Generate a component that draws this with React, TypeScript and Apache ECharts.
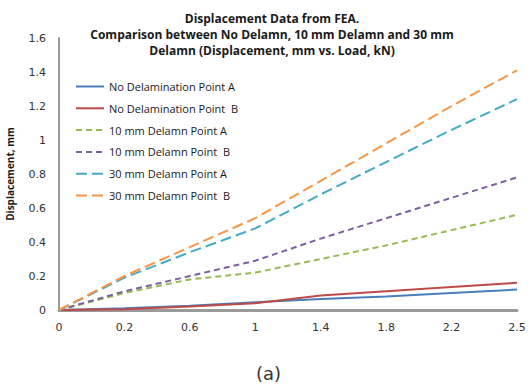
import React, { useEffect, useRef } from "react";
import * as echarts from "echarts";

const categories = ["0", "0.2", "0.6", "1", "1.4", "1.8", "2.2", "2.5"];
const noDelamA = [0, 0.01, 0.025, 0.045, 0.065, 0.08, 0.1, 0.12];
const noDelamB = [0, 0.005, 0.02, 0.04, 0.085, 0.11, 0.135, 0.16];
const d10A = [0, 0.1, 0.18, 0.22, 0.3, 0.38, 0.47, 0.56];
const d10B = [0, 0.11, 0.2, 0.29, 0.42, 0.54, 0.66, 0.78];
const d30A = [0, 0.19, 0.34, 0.48, 0.68, 0.87, 1.06, 1.24];
const d30B = [0, 0.2, 0.37, 0.54, 0.76, 0.98, 1.2, 1.41];

const names = [
  "No Delamination Point A",
  "No Delamination Point  B",
  "10 mm Delamn Point A",
  "10 mm Delamn Point  B",
  "30 mm Delamn Point A",
  "30 mm Delamn Point  B",
];
const colors = ["#4a7ebb", "#be4b48", "#98b954", "#7d60a0", "#46aac5", "#f79646"];

export default function App() {
  const ref = useRef<HTMLDivElement>(null);
  useEffect(() => {
    document.body.style.margin = "0";
    const chart = echarts.init(ref.current!, null, { renderer: "svg" });
    const data = [noDelamA, noDelamB, d10A, d10B, d30A, d30B];
    const dashes: any[] = ["solid", "solid", [6, 4], [6, 4], [11, 5], [11, 5]];
    chart.setOption({
      animation: false,
      backgroundColor: "#fff",
      title: {
        text: "Displacement Data from FEA.\nComparison between No Delamn, 10 mm Delamn and 30 mm\nDelamn (Displacement, mm vs. Load, kN)",
        left: 267,
        textAlign: "center",
        top: 5,
        textStyle: {
          fontFamily: "Open Sans",
          fontWeight: "bold",
          fontSize: 12,
          lineHeight: 16,
          color: "#1a1a1a",
        },
      },
      graphic: [
        {
          type: "text",
          left: 256,
          top: 364,
          style: { text: "(a)", fontFamily: "DejaVu Sans", fontSize: 18, fill: "#333" },
        },
      ],
      legend: {
        orient: "vertical",
        left: 70,
        top: 76,
        itemWidth: 28,
        itemHeight: 10,
        itemGap: 10.8,
        data: names,
        itemStyle: { opacity: 0 },
        textStyle: { fontFamily: "Open Sans", fontSize: 11, color: "#1a1a1a" },
      },
      grid: { left: 59, right: 12, top: 38, bottom: 77, outerBoundsMode: "none", containLabel: false },
      xAxis: {
        type: "category",
        data: categories,
        boundaryGap: false,
        axisLine: { lineStyle: { color: "#9a9a9a", width: 3 } },
        axisTick: { show: false },
        axisLabel: { color: "#333", fontFamily: "DejaVu Sans", fontSize: 11, margin: 12 },
      },
      yAxis: {
        type: "value",
        min: 0,
        max: 1.6,
        interval: 0.2,
        name: "Displacement, mm",
        nameLocation: "middle",
        nameGap: 44,
        nameTextStyle: { fontFamily: "Open Sans", fontWeight: "bold", fontSize: 10, color: "#1a1a1a" },
        splitLine: { show: false },
        axisLine: { show: true, lineStyle: { color: "#9a9a9a", width: 2 } },
        axisTick: { show: false },
        axisLabel: {
          color: "#333",
          fontFamily: "DejaVu Sans",
          fontSize: 11,
          margin: 13,
          formatter: (v: number) => String(Math.round(v * 10) / 10),
        },
      },
      series: names.map((n, i) => ({
        name: n,
        type: "line",
        data: data[i],
        symbol: "none",
        color: colors[i],
        lineStyle: { color: colors[i], width: 2, type: dashes[i] },
        z: 2 + i,
      })),
    });
    return () => chart.dispose();
  }, []);
  return <div ref={ref} style={{ width: 529, height: 387 }} />;
}
